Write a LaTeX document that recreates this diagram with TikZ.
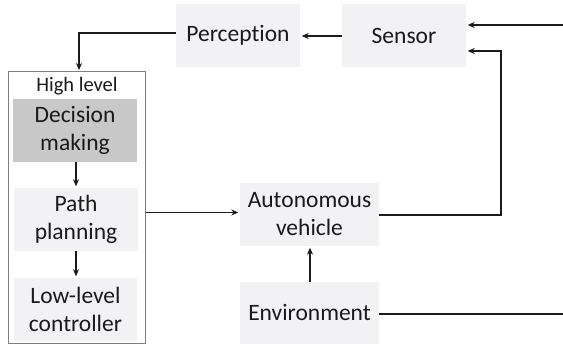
\documentclass[tikz,border=0pt]{standalone}
\usepackage{fontspec}
\setmainfont[Ligatures={NoCommon}]{Carlito}
\usetikzlibrary{arrows.meta}
\definecolor{boxfill}{HTML}{F2F2F4}
\definecolor{darkfill}{HTML}{C8C8C8}
\definecolor{frame}{HTML}{7F7F7F}
\definecolor{ink}{HTML}{1A1A1A}
\tikzset{
  block/.style={fill=boxfill, draw=none, minimum width=124pt, minimum height=63pt,
    align=center, inner sep=0pt, font=\fontsize{23.5}{28}\selectfont, text=ink},
  wire/.style={line width=1.8pt, draw=ink},
  arr/.style={wire, -{Stealth[length=7pt,width=6pt]}, shorten >=1.5pt},
}
\begin{document}
\begin{tikzpicture}[x=1pt,y=-1pt]
  \useasboundingbox (0,0) rectangle (563,347);
  % top row
  \node[block] (perc) at (238,35.5) {Perception};
  \node[block] (sens) at (404,35.5) {Sensor};
  % high-level group
  \node[draw=frame, line width=1pt, minimum width=137pt, minimum height=272pt, inner sep=0pt] (hl) at (76.5,208) {};
  \node[font=\fontsize{20.5}{24}\selectfont, text=ink] (hltitle) at (77,86) {High level};
  \node[block, fill=darkfill] (dec) at (75,130.5) {Decision\\making};
  \node[block] (path) at (76,219.5) {Path\\planning};
  \node[block, minimum width=123pt] (low) at (75.5,309.5) {Low-level\\controller};
  % plant
  \node[block, minimum width=139pt] (av) at (309.5,214.5) {Autonomous\\vehicle};
  \node[block, minimum width=139pt, minimum height=62pt] (env) at (309.5,313) {Environment};
  % free ends on the right edge
  \coordinate (inR) at (563,25);
  \coordinate (outR) at (563,314);
  \coordinate (fb) at (501,215);
  % connectors
  \draw[arr] (sens.west |- 0,36) -- (perc.east |- 0,36);
  \draw[arr] (inR) -- (inR -| sens.east);
  \draw[arr] (av.east |- fb) -- (fb) -- (501,51) -- (sens.east |- 0,51);
  \draw[arr] (perc.west |- 0,33) -| (hl.north -| 79,0);
  \draw[arr] (dec.south -| 76,0) -- (path.north -| 76,0);
  \draw[arr] (path.south -| 76,0) -- (low.north -| 76,0);
  \draw[arr, line width=1.1pt] (hl.east |- 0,212.5) -- (av.west |- 0,212.5);
  \draw[arr] (env.north -| 310,0) -- (av.south -| 310,0);
  \draw[wire] (env.east |- outR) -- (outR);
\end{tikzpicture}
\end{document}
